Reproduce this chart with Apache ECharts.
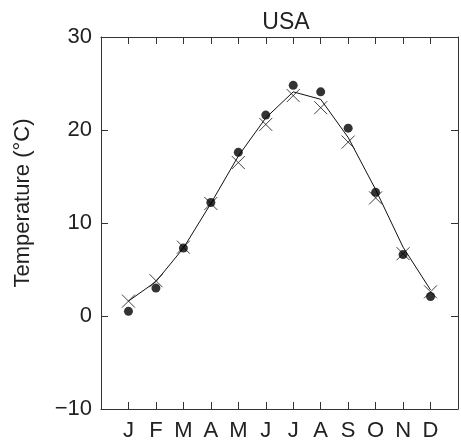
<!DOCTYPE html>
<html>
<head>
<meta charset="utf-8">
<script src="https://cdn.jsdelivr.net/npm/echarts@6/dist/echarts.min.js"></script>
<style>html,body{margin:0;padding:0;background:#fff}#c{width:461px;height:446px}</style>
</head>
<body>
<div id="c"></div>
<script>
var months = ['J','F','M','A','M','J','J','A','S','O','N','D'];
var observed = [0.5, 3.0, 7.3, 12.2, 17.6, 21.6, 24.8, 24.1, 20.2, 13.3, 6.6, 2.1];
var modelled = [1.6, 3.8, 7.4, 12.1, 16.5, 20.6, 23.7, 22.4, 18.7, 12.7, 6.7, 2.6];
var lineVals = [1.6, 3.7, 7.3, 12.1, 17.2, 21.3, 24.1, 23.3, 19.2, 13.6, 7.4, 2.8];
var yTicks = [-10, 0, 10, 20, 30];

function pairs(arr){ return arr.map(function(v,i){ return [i+1, v]; }); }

var FONT = 'Liberation Sans';
var TXT = '#222';
var AX = '#333';

function xAx(pos, labels){
  return {
    type: 'value', min: 0, max: 13, interval: 1, position: pos,
    splitLine: { show: false },
    axisLine: { show: true, onZero: false, lineStyle: { color: AX } },
    axisTick: { show: true, inside: true, length: 7, lineStyle: { color: AX } },
    axisLabel: labels ? {
      margin: 11, fontFamily: FONT, fontSize: 22, color: TXT,
      formatter: function(v){ return months[v-1] || ''; }
    } : { show: false }
  };
}
function yAx(pos, labels){
  return {
    type: 'value', min: yTicks[0], max: yTicks[yTicks.length-1], interval: 10, position: pos,
    splitLine: { show: false },
    axisLine: { show: true, onZero: false, lineStyle: { color: AX } },
    axisTick: { show: true, inside: true, length: 7, lineStyle: { color: AX } },
    axisLabel: labels ? {
      margin: 9, fontFamily: FONT, fontSize: 22, color: TXT,
      formatter: function(v){ return v < 0 ? '\u2212' + Math.abs(v) : String(v); }
    } : { show: false }
  };
}

var chart = echarts.init(document.getElementById('c'));
chart.setOption({
  animation: false,
  backgroundColor: '#fff',
  title: {
    text: 'USA', left: 281, top: 6, textAlign: 'center',
    textStyle: { fontFamily: FONT, fontSize: 23, fontWeight: 'normal', color: TXT }
  },
  grid: { left: 101, right: 2, top: 37, bottom: 37 },
  xAxis: [xAx('bottom', true), xAx('top', false)],
  yAxis: [yAx('left', true), yAx('right', false)],
  graphic: [{
    type: 'text', x: 23, y: 203, rotation: Math.PI/2,
    style: { text: 'Temperature (\u00B0C)', fontFamily: FONT, fontSize: 22, fill: TXT,
             textAlign: 'center', textVerticalAlign: 'middle' }
  }],
  series: [{
    type: 'line', data: pairs(lineVals), showSymbol: false, symbol: 'none',
    lineStyle: { color: '#111', width: 1 }, z: 2
  }, {
    type: 'scatter', data: pairs(modelled), symbol: 'path://M0,0L10,10M10,0L0,10',
    symbolSize: 13,
    itemStyle: { color: 'none', borderColor: '#111', borderWidth: 1 }, z: 3
  }, {
    type: 'scatter', data: pairs(observed), symbol: 'circle', symbolSize: 9,
    itemStyle: { color: '#000' }, z: 4
  }]
});
</script>
</body>
</html>
